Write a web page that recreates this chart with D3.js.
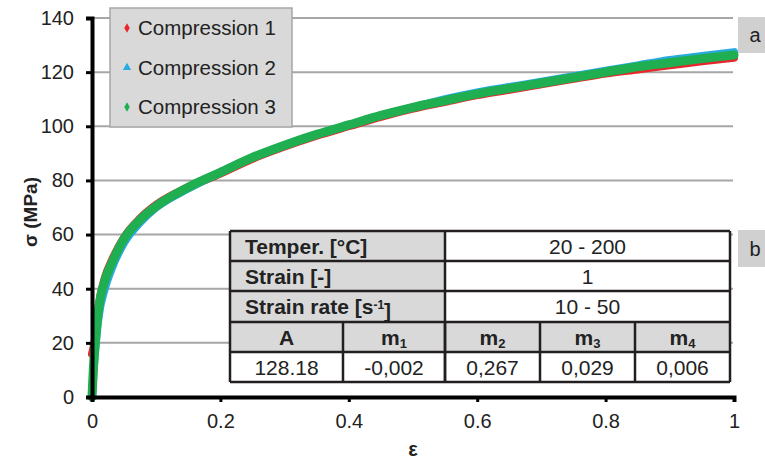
<!DOCTYPE html>
<html>
<head>
<meta charset="utf-8">
<script src="https://cdn.jsdelivr.net/npm/d3@7"></script>
<style>
  body { margin: 0; background: #fff; }
  svg { font-family: "Liberation Sans", Arial, sans-serif; }
</style>
</head>
<body>
<div id="chart"></div>
<script>
// strain values shared by the three curves
const strain = [0, 0.002, 0.005, 0.01, 0.02, 0.03, 0.05, 0.075, 0.1, 0.15, 0.2, 0.25, 0.3, 0.35,
    0.4, 0.45, 0.5, 0.55, 0.6, 0.65, 0.7, 0.75, 0.8, 0.85, 0.9, 0.95, 1.0];

// flow stress (MPa)
const comp1 = [16, 18, 22, 33, 44, 50, 59, 66, 71, 77.5, 82.5, 88, 92.5, 96.5,
    100, 103.5, 106.5, 109, 111.5, 113.5, 115.5, 117.5, 119.5, 121, 122.5, 124, 125.3];
const comp2 = [0, 8, 17, 29, 40, 47, 57, 64.5, 70, 77, 83, 88.5, 93, 97,
    100.5, 104, 107, 110, 112.5, 114.5, 116.5, 118.5, 120.5, 122.5, 124.5, 126, 127.4];
const comp3 = [0, 10, 20, 32, 43, 49, 58.5, 65.5, 70.5, 77.5, 83, 88.5, 93, 97,
    100.5, 104, 107, 109.5, 112, 114, 116, 118, 120, 122, 123.5, 125, 126.3];

const seriesNames = ["Compression 1", "Compression 2", "Compression 3"];
const seriesColors = ["#e8262b", "#29abe2", "#1fae50"];
const seriesMarkers = [d3.symbolDiamond, d3.symbolTriangle, d3.symbolDiamond];

const xTicks = [0, 0.2, 0.4, 0.6, 0.8, 1];
const yTicks = [0, 20, 40, 60, 80, 100, 120, 140];

// table content
const topLabels = ["Temper. [°C]", "Strain [-]", "Strain rate [s"];
const topValues = ["20 - 200", "1", "10 - 50"];
const coefNames = ["A", "m", "m", "m", "m"];
const coefSubs = ["", "1", "2", "3", "4"];
const coefValues = ["128.18", "-0,002", "0,267", "0,029", "0,006"];

const width = 765, height = 462;
const svg = d3.select("#chart").append("svg")
    .attr("width", width)
    .attr("height", height);

const x = d3.scaleLinear().domain([0, 1]).range([92, 734]);
const y = d3.scaleLinear().domain([0, 140]).range([397, 18]);

// gridlines
svg.append("g").selectAll("line")
    .data(yTicks.filter(d => d > 0))
    .join("line")
    .attr("x1", x(0)).attr("x2", 733)
    .attr("y1", d => y(d)).attr("y2", d => y(d))
    .attr("stroke", "#a6a6a6")
    .attr("stroke-width", 2);

// curves
const line = d3.line()
    .x((d, i) => x(strain[i]))
    .y(d => y(d))
    .curve(d3.curveMonotoneX);

const allSeries = [comp1, comp2, comp3];
const widths = [8, 8, 9];
allSeries.forEach((s, i) => {
    svg.append("path")
        .datum(s)
        .attr("d", line)
        .attr("fill", "none")
        .attr("stroke", seriesColors[i])
        .attr("stroke-width", widths[i])
        .attr("stroke-linecap", "round")
        .attr("stroke-linejoin", "round");
});

// axes
const yAxis = d3.axisLeft(y).tickValues(yTicks).tickSize(6).tickPadding(12);
const yAxisG = svg.append("g")
    .attr("transform", `translate(${x(0)},0)`)
    .call(yAxis);
const xAxis = d3.axisBottom(x).tickValues(xTicks).tickSize(5).tickPadding(12)
    .tickFormat(d3.format("~g"));
const xAxisG = svg.append("g")
    .attr("transform", `translate(0,${y(0)})`)
    .call(xAxis);

[yAxisG, xAxisG].forEach(g => {
    g.select(".domain").attr("stroke", "#000").attr("stroke-width", 4);
    g.selectAll(".tick line").attr("stroke", "#000").attr("stroke-width", 3);
    g.selectAll(".tick text")
        .attr("fill", "#222")
        .style("font-size", "20px")
        .style("font-family", "'Liberation Sans', Arial, sans-serif");
});
xAxisG.selectAll(".tick text").attr("dy", "0.71em");

// axis titles
svg.append("text")
    .attr("transform", "translate(37,212) rotate(-90)")
    .attr("text-anchor", "middle")
    .style("font-size", "19px")
    .style("font-weight", "bold")
    .attr("fill", "#222")
    .text("σ (MPa)");

svg.append("text")
    .attr("x", 413)
    .attr("y", 456)
    .attr("text-anchor", "middle")
    .style("font-size", "20px")
    .style("font-weight", "bold")
    .attr("fill", "#222")
    .text("ε");

// legend
const legend = svg.append("g");
legend.append("rect")
    .attr("x", 110).attr("y", 8)
    .attr("width", 182).attr("height", 119)
    .attr("fill", "#d9d9d9")
    .attr("stroke", "#a6a6a6")
    .attr("stroke-width", 1.5);
seriesNames.forEach((name, i) => {
    const ly = 28 + i * 39.5;
    legend.append("path")
        .attr("d", d3.symbol().type(seriesMarkers[i]).size(i === 1 ? 30 : 26))
        .attr("transform", `translate(127,${ly})`)
        .attr("fill", seriesColors[i]);
    legend.append("text")
        .attr("x", 138)
        .attr("y", ly)
        .attr("dy", "0.36em")
        .style("font-size", "20.5px")
        .attr("fill", "#222")
        .text(name);
});

// side tags a / b
[["a", 17, 36], ["b", 230, 37]].forEach(([t, top, h]) => {
    svg.append("rect")
        .attr("x", 738).attr("y", top)
        .attr("width", 30).attr("height", h)
        .attr("fill", "#d0d0d0");
    svg.append("text")
        .attr("x", 755)
        .attr("y", top + h / 2)
        .attr("dy", "0.36em")
        .attr("text-anchor", "middle")
        .style("font-size", "20px")
        .attr("fill", "#222")
        .text(t);
});

// parameter table
const table = svg.append("g");
const tLeft = 230, tRight = 730, tSplit = 445;
const rowEdges = [231, 261, 291, 322, 352, 382];
const colEdges = [230, 343, 445, 540, 635, 730];

topLabels.forEach((lab, i) => {
    table.append("rect")
        .attr("x", tLeft).attr("y", rowEdges[i])
        .attr("width", tSplit - tLeft).attr("height", rowEdges[i + 1] - rowEdges[i])
        .attr("fill", "#d9d9d9");
    table.append("rect")
        .attr("x", tSplit).attr("y", rowEdges[i])
        .attr("width", tRight - tSplit).attr("height", rowEdges[i + 1] - rowEdges[i])
        .attr("fill", "#fff");
    const cy = (rowEdges[i] + rowEdges[i + 1]) / 2;
    const t = table.append("text")
        .attr("x", 245).attr("y", cy).attr("dy", "0.36em")
        .style("font-size", "21px")
        .style("font-weight", "bold")
        .attr("fill", "#222")
        .text(lab);
    if (i === 2) {
        t.append("tspan").attr("dy", "-0.45em").style("font-size", "12px").text("-1");
        t.append("tspan").attr("dy", "0.45em").style("font-size", "21px").text("]");
    }
    table.append("text")
        .attr("x", (tSplit + tRight) / 2).attr("y", cy).attr("dy", "0.36em")
        .attr("text-anchor", "middle")
        .style("font-size", "21px")
        .attr("fill", "#222")
        .text(topValues[i]);
});

coefNames.forEach((nm, j) => {
    const x0 = colEdges[j], x1 = colEdges[j + 1];
    table.append("rect")
        .attr("x", x0).attr("y", rowEdges[3])
        .attr("width", x1 - x0).attr("height", rowEdges[4] - rowEdges[3])
        .attr("fill", "#d9d9d9");
    table.append("rect")
        .attr("x", x0).attr("y", rowEdges[4])
        .attr("width", x1 - x0).attr("height", rowEdges[5] - rowEdges[4])
        .attr("fill", "#fff");
    const t = table.append("text")
        .attr("x", (x0 + x1) / 2).attr("y", (rowEdges[3] + rowEdges[4]) / 2).attr("dy", "0.36em")
        .attr("text-anchor", "middle")
        .style("font-size", "21px")
        .style("font-weight", "bold")
        .attr("fill", "#222")
        .text(nm);
    if (coefSubs[j]) {
        t.append("tspan").attr("dy", "0.3em").style("font-size", "13px").text(coefSubs[j]);
    }
    table.append("text")
        .attr("x", (x0 + x1) / 2).attr("y", (rowEdges[4] + rowEdges[5]) / 2).attr("dy", "0.36em")
        .attr("text-anchor", "middle")
        .style("font-size", "21px")
        .attr("fill", "#222")
        .text(coefValues[j]);
});

// table borders
const border = table.append("g")
    .attr("stroke", "#231f20")
    .attr("stroke-width", 2.5)
    .attr("fill", "none");
rowEdges.forEach(ry => {
    border.append("line").attr("x1", tLeft).attr("x2", tRight).attr("y1", ry).attr("y2", ry);
});
border.append("line").attr("x1", tLeft).attr("x2", tLeft).attr("y1", rowEdges[0]).attr("y2", rowEdges[5]);
border.append("line").attr("x1", tRight).attr("x2", tRight).attr("y1", rowEdges[0]).attr("y2", rowEdges[5]);
border.append("line").attr("x1", tSplit).attr("x2", tSplit).attr("y1", rowEdges[0]).attr("y2", rowEdges[5]);
colEdges.slice(1, -1).forEach(cx => {
    border.append("line").attr("x1", cx).attr("x2", cx).attr("y1", rowEdges[3]).attr("y2", rowEdges[5]);
});
</script>
</body>
</html>
